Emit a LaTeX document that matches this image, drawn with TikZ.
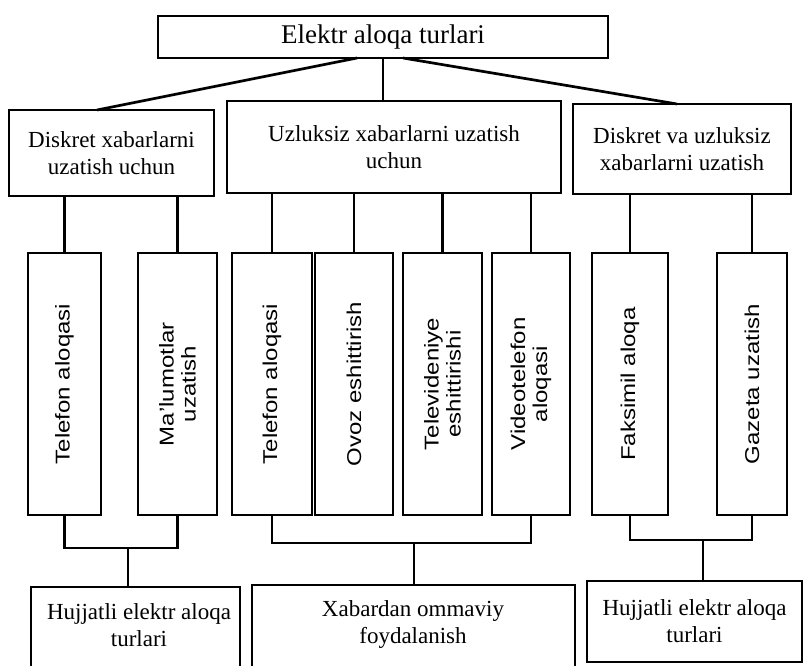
\documentclass[tikz,border=0pt]{standalone}
\usepackage{fontspec}
\setmainfont{Liberation Serif}
\newfontfamily\vsans[FakeStretch=1.2]{Liberation Sans}
\begin{document}
\begin{tikzpicture}[x=1pt,y=-1pt,
  box/.style={draw, line width=2.7pt, rectangle, inner sep=0pt, outer sep=0pt},
  htext/.style={font=\fontsize{23}{27}\selectfont, align=center, inner sep=0pt},
  vtext/.style={font=\vsans\fontsize{20}{22}\selectfont, align=center, rotate=90, inner sep=0pt},
  link/.style={line width=2.7pt}]
\useasboundingbox (0,0) rectangle (804,666);
\clip (0,0) rectangle (804,666);

% root
\node[box, htext, font=\fontsize{27}{30}\selectfont, minimum width=450, minimum height=42] (top) at (383,37) {Elektr aloqa turlari};

% first level
\node[box, htext, minimum width=205, minimum height=86] (la) at (111.5,153) {Diskret xabarlarni\\uzatish uchun};
\node[box, htext, minimum width=334, minimum height=92] (lb) at (394,147) {Uzluksiz xabarlarni uzatish\\uchun};
\node[box, htext, minimum width=218, minimum height=90] (lc) at (682,149) {Diskret va uzluksiz\\xabarlarni uzatish};

% second level (tall boxes with upright labels)
\foreach \n/\cx/\w in {1/64.5/73, 2/177.5/79, 3/272/80, 4/354/78, 5/442.5/79, 6/531/78, 7/630/76, 8/752/70}
  \node[box, minimum width=\w, minimum height=262] (v\n) at (\cx,384) {};
\node[vtext] (t1) at (v1) {Telefon aloqasi};
\node[vtext] (t2) at (v2) {Ma’lumotlar\\uzatish};
\node[vtext] (t3) at (v3) {Telefon aloqasi};
\node[vtext] (t4) at (v4) {Ovoz eshittirish};
\node[vtext] (t5) at (v5) {Televideniye\\eshittirishi};
\node[vtext] (t6) at (v6) {Videotelefon\\aloqasi};
\node[vtext] (t7) at (v7) {Faksimil aloqa};
\node[vtext] (t8) at (v8) {Gazeta uzatish};

% bottom level
\node[box, minimum width=209, minimum height=113] (ba) at (135.5,643.5) {};
\node[htext] (bat) at (139,625) {Hujjatli elektr aloqa\\turlari};
\node[box, minimum width=323, minimum height=115] (bb) at (413.5,642.5) {};
\node[htext] (bbt) at (413,624) {Xabardan ommaviy\\foydalanish};
\node[box, htext, minimum width=215, minimum height=81] (bc) at (694.5,621.5) {Hujjatli elektr aloqa\\turlari};

% root to first level
\coordinate (rl) at (357,58);
\coordinate (rr) at (403,58);
\coordinate (rm) at (383,58);
\draw[link] (rl) -- (la.north -| 97,0);
\draw[link] (rr) -- (lc.north -| 677,0);
\draw[link] (rm) -- (lb.north -| rm);

% first level to second level
\foreach \n/\p in {1/la, 2/la, 3/lb, 4/lb, 5/lb, 6/lb, 7/lc, 8/lc}
  \draw[link] (v\n.north) -- (v\n.north |- \p.south);

% second level brackets to bottom level
\coordinate (ja) at (128,548);
\coordinate (jb) at (414,543);
\coordinate (jc) at (703,540);
\draw[link] (v1.south) |- (ja) -| (v2.south);
\draw[link] (ja) -- (ja |- ba.north);
\draw[link] (v3.south) |- (jb) -| (v6.south);
\draw[link] (jb) -- (jb |- bb.north);
\draw[link] (v7.south) |- (jc) -| (v8.south);
\draw[link] (jc) -- (jc |- bc.north);
\end{tikzpicture}
\end{document}
